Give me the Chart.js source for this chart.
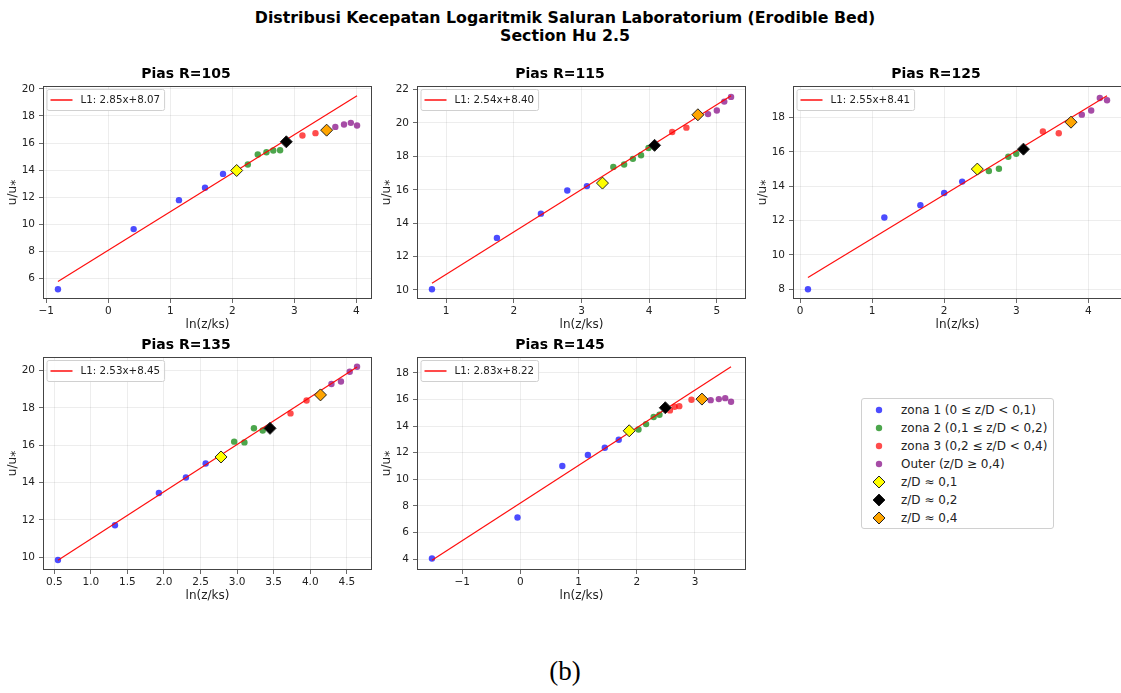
<!DOCTYPE html>
<html>
<head>
<meta charset="utf-8">
<script src="https://cdn.jsdelivr.net/npm/chart.js@4"></script>
<style>
  html, body { margin: 0; padding: 0; overflow: hidden; }
  body { width: 1121px; height: 693px; position: relative; background: #fff; font-family: "DejaVu Sans", sans-serif; }
  canvas { position: absolute; }
  #suptitle { position: absolute; left: 0; top: 9px; width: 1130px; text-align: center; font-weight: bold; font-size: 15.8px; line-height: 18px; color: #000; }
  #bigLegend { position: absolute; left: 861px; top: 398px; width: 193px; height: 131px; box-sizing: border-box; border: 1px solid #d0d0d0; border-radius: 3px; padding-top: 2px; background: #fff; }
  #bigLegend .row { height: 18px; display: flex; align-items: center; font-size: 12px; color: #222; white-space: nowrap; }
  #bigLegend svg { width: 39px; height: 18px; flex: none; }
  #caption { position: absolute; left: 0; width: 1130px; top: 656px; text-align: center; font-family: "Liberation Serif", serif; font-size: 27px; color: #000; }
</style>
</head>
<body>
<div id="suptitle">Distribusi Kecepatan Logaritmik Saluran Laboratorium (Erodible Bed)<br>Section Hu 2.5</div>
<div id="bigLegend"></div>
<div id="caption">(b)</div>
<script>
// judul tiap panel dan hasil regresi L1
const panelNames = ['Pias R=105', 'Pias R=115', 'Pias R=125', 'Pias R=135', 'Pias R=145'];
const slopes = [2.85, 2.54, 2.55, 2.53, 2.83];
const intercepts = [8.07, 8.40, 8.41, 8.45, 8.22];

// zona 1 (0 <= z/D < 0,1)
const zona1X = [[-0.81, 0.41, 1.14, 1.56, 1.85], [0.79, 1.75, 2.40, 2.79, 3.08], [0.11, 1.17, 1.67, 2.00, 2.25], [0.55, 1.33, 1.93, 2.30, 2.57], [-1.52, -0.05, 0.72, 1.16, 1.45, 1.69]];
const zona1Y = [[5.19, 9.64, 11.78, 12.69, 13.72], [10.04, 13.12, 14.57, 15.96, 16.22], [8.00, 12.18, 12.90, 13.61, 14.27], [9.86, 11.72, 13.44, 14.27, 15.02], [4.05, 7.13, 11.00, 11.83, 12.38, 12.98]];
// zona 2 (0,1 <= z/D < 0,2)
const zona2X = [[2.25, 2.41, 2.55, 2.66, 2.77], [3.47, 3.63, 3.76, 3.88, 3.99], [2.62, 2.76, 2.89, 3.00], [2.96, 3.10, 3.23, 3.35], [2.03, 2.16, 2.29, 2.39]];
const zona2Y = [[14.41, 15.15, 15.32, 15.45, 15.47], [17.37, 17.51, 17.85, 18.07, 18.50], [14.89, 15.02, 15.72, 15.89], [16.19, 16.15, 16.91, 16.79], [13.75, 14.15, 14.68, 14.85]];
// zona 3 (0,2 <= z/D < 0,4)
const zona3X = [[3.13, 3.34], [4.34, 4.55], [3.37, 3.59], [3.73, 3.95], [2.57, 2.65, 2.73, 2.94]];
const zona3Y = [[16.56, 16.73], [19.46, 19.72], [17.19, 17.09], [17.70, 18.39], [15.18, 15.45, 15.50, 15.98]];
// outer (z/D >= 0,4)
const outerX = [[3.66, 3.80, 3.91, 4.01], [4.87, 5.00, 5.11, 5.21], [3.91, 4.04, 4.16, 4.26], [4.29, 4.42, 4.54, 4.64], [3.27, 3.41, 3.52, 3.62]];
const outerY = [[17.19, 17.37, 17.49, 17.29], [20.53, 20.75, 21.28, 21.56], [18.17, 18.41, 19.14, 19.01], [19.27, 19.41, 19.93, 20.20], [15.95, 16.03, 16.10, 15.83]];
// titik z/D ~ 0,1 / 0,2 / 0,4
const d01X = [2.07, 3.31, 2.46, 2.78, 1.87];
const d01Y = [13.97, 16.40, 15.00, 15.37, 13.65];
const d02X = [2.87, 4.08, 3.10, 3.45, 2.49];
const d02Y = [16.09, 18.66, 16.16, 16.90, 15.38];
const d04X = [3.52, 4.72, 3.76, 4.14, 3.12];
const d04Y = [16.95, 20.49, 17.73, 18.69, 16.03];

// label sumbu
const xTicks = [[-1, 0, 1, 2, 3, 4], [1, 2, 3, 4, 5], [0, 1, 2, 3, 4], [0.5, 1, 1.5, 2, 2.5, 3, 3.5, 4, 4.5], [-1, 0, 1, 2, 3]];
const xDecimals = [0, 0, 0, 1, 0];
const yTicks = [[6, 8, 10, 12, 14, 16, 18, 20], [10, 12, 14, 16, 18, 20, 22], [8, 10, 12, 14, 16, 18], [10, 12, 14, 16, 18, 20], [4, 6, 8, 10, 12, 14, 16, 18]];

// posisi area plot (kiri, atas) di halaman
const plotPos = [[43, 86], [417, 86], [793, 86], [43, 357], [417, 357]];
const PLOT_W = 329, PLOT_H = 213, AXIS_W = 43, TITLE_H = 20, XAXIS_H = 36, PAD_R = 8;

const zoneStyles = [
  { label: 'zona 1 (0 ≤ z/D < 0,1)', color: 'rgba(0,0,255,0.7)' },
  { label: 'zona 2 (0,1 ≤ z/D < 0,2)', color: 'rgba(0,128,0,0.7)' },
  { label: 'zona 3 (0,2 ≤ z/D < 0,4)', color: 'rgba(255,0,0,0.7)' },
  { label: 'Outer (z/D ≥ 0,4)', color: 'rgba(128,0,128,0.7)' }
];
const diamondStyles = [
  { label: 'z/D ≈ 0,1', color: '#ffff00' },
  { label: 'z/D ≈ 0,2', color: '#000000' },
  { label: 'z/D ≈ 0,4', color: '#ffa500' }
];

Chart.defaults.font.family = '"DejaVu Sans", sans-serif';

function fmt(v, dec) {
  const s = Number(v).toFixed(dec);
  return s.replace('-', '\u2212');
}
function pts(xs, ys) { return xs.map((x, k) => ({ x: x, y: ys[k] })); }

// kotak legenda kecil di dalam plot (gaya matplotlib)
const innerLegend = {
  id: 'innerLegend',
  afterDraw(chart) {
    const ds = chart.data.datasets.find(d => d.isFit);
    const { ctx, chartArea } = chart;
    ctx.save();
    ctx.font = '10.3px "DejaVu Sans"';
    const tw = ctx.measureText(ds.label).width;
    const x = chartArea.left + 3.5, y = chartArea.top + 3, h = 21, w = 34 + tw + 4;
    ctx.beginPath();
    ctx.roundRect(x + 0.5, y + 0.5, w, h, 2);
    ctx.fillStyle = 'rgba(255,255,255,0.85)';
    ctx.fill();
    ctx.strokeStyle = '#d0d0d0';
    ctx.lineWidth = 1;
    ctx.stroke();
    ctx.beginPath();
    ctx.moveTo(x + 4, y + h / 2 + 0.5);
    ctx.lineTo(x + 26, y + h / 2 + 0.5);
    ctx.strokeStyle = ds.borderColor;
    ctx.lineWidth = 1.5;
    ctx.stroke();
    ctx.fillStyle = '#222';
    ctx.textBaseline = 'middle';
    ctx.fillText(ds.label, x + 34, y + h / 2 + 1);
    ctx.restore();
  }
};

// bingkai plot di empat sisi
const frame = {
  id: 'frame',
  afterDraw(chart) {
    const { ctx, chartArea: a } = chart;
    ctx.save();
    ctx.strokeStyle = '#444';
    ctx.lineWidth = 1;
    ctx.strokeRect(Math.round(a.left) + 0.5, Math.round(a.top) + 0.5, Math.round(a.right - a.left) - 1, Math.round(a.bottom - a.top) - 1);
    ctx.restore();
  }
};

panelNames.forEach((name, i) => {
  const allX = [].concat(zona1X[i], zona2X[i], zona3X[i], outerX[i], [d01X[i], d02X[i], d04X[i]]);
  const allY = [].concat(zona1Y[i], zona2Y[i], zona3Y[i], outerY[i], [d01Y[i], d02Y[i], d04Y[i]]);
  const x0 = Math.min(...allX), x1 = Math.max(...allX);
  const fit = [x0, x1].map(x => ({ x: x, y: slopes[i] * x + intercepts[i] }));
  const ys = allY.concat(fit.map(p => p.y));
  const y0 = Math.min(...ys), y1 = Math.max(...ys);
  const mx = (x1 - x0) * 0.05, my = (y1 - y0) * 0.05;

  const canvas = document.createElement('canvas');
  canvas.width = AXIS_W + PLOT_W + PAD_R;
  canvas.height = TITLE_H + PLOT_H + XAXIS_H;
  canvas.style.left = (plotPos[i][0] - AXIS_W) + 'px';
  canvas.style.top = (plotPos[i][1] - TITLE_H) + 'px';
  document.body.appendChild(canvas);

  const zoneX = [zona1X, zona2X, zona3X, outerX], zoneY = [zona1Y, zona2Y, zona3Y, outerY];
  const dX = [d01X, d02X, d04X], dY = [d01Y, d02Y, d04Y];
  const datasets = [];
  zoneStyles.forEach((z, k) => {
    datasets.push({
      label: z.label, data: pts(zoneX[k][i], zoneY[k][i]), order: 3,
      pointRadius: 3.2, pointBackgroundColor: z.color, pointBorderWidth: 0, borderColor: z.color
    });
  });
  datasets.push({
    label: 'L1: ' + slopes[i].toFixed(2) + 'x+' + intercepts[i].toFixed(2), isFit: true,
    type: 'line', data: fit, order: 2, showLine: true, pointRadius: 0,
    borderColor: 'rgba(255,0,0,0.95)', borderWidth: 1.2, fill: false
  });
  diamondStyles.forEach((d, k) => {
    datasets.push({
      label: d.label, data: [{ x: dX[k][i], y: dY[k][i] }], order: 1,
      pointStyle: 'rectRot', pointRadius: 6, pointBackgroundColor: d.color,
      pointBorderColor: '#222', pointBorderWidth: 1
    });
  });

  const gridOpts = { color: 'rgba(0,0,0,0.09)', lineWidth: 0.8, tickColor: '#444', tickLength: 4 };

  new Chart(canvas.getContext('2d'), {
    type: 'scatter',
    data: { datasets: datasets },
    options: {
      responsive: false,
      animation: false,
      devicePixelRatio: 1,
      layout: { padding: { left: 0, top: 0, bottom: 0, right: PAD_R } },
      plugins: {
        legend: { display: false },
        tooltip: { enabled: false },
        title: { display: true, text: name, color: '#000', font: { size: 14, weight: 'bold' }, padding: { top: 0, bottom: 3.2 } }
      },
      scales: {
        x: {
          type: 'linear', min: x0 - mx, max: x1 + mx,
          afterBuildTicks: s => { s.ticks = xTicks[i].map(v => ({ value: v })); },
          afterFit: s => { s.height = XAXIS_H; },
          ticks: { color: '#222', font: { size: 10.5 }, padding: 2, maxRotation: 0, autoSkip: false, callback: v => fmt(v, xDecimals[i]) },
          grid: gridOpts,
          border: { display: false },
          title: { display: true, text: 'ln(z/ks)', color: '#222', font: { size: 12 }, padding: { top: 0, bottom: 3 } }
        },
        y: {
          type: 'linear', min: y0 - my, max: y1 + my,
          afterBuildTicks: s => { s.ticks = yTicks[i].map(v => ({ value: v })); },
          afterFit: s => { s.width = AXIS_W; },
          ticks: { color: '#222', font: { size: 10.5 }, padding: 4, autoSkip: false, callback: v => fmt(v, 0) },
          grid: gridOpts,
          border: { display: false },
          title: { display: true, text: 'u/u\u204E', color: '#222', font: { size: 12 }, padding: { top: 6, bottom: 0 } }
        }
      }
    },
    plugins: [innerLegend, frame]
  });
});

// legenda besar di slot kosong
const legendBox = document.getElementById('bigLegend');
zoneStyles.forEach(z => {
  legendBox.insertAdjacentHTML('beforeend',
    '<div class="row"><svg><circle cx="17" cy="9" r="3.2" fill="' + z.color + '"/></svg><span></span></div>');
  legendBox.lastChild.querySelector('span').textContent = z.label;
});
diamondStyles.forEach(d => {
  legendBox.insertAdjacentHTML('beforeend',
    '<div class="row"><svg><polygon points="17,3 23,9 17,15 11,9" fill="' + d.color + '" stroke="#222" stroke-width="1"/></svg><span></span></div>');
  legendBox.lastChild.querySelector('span').textContent = d.label;
});
</script>
</body>
</html>
